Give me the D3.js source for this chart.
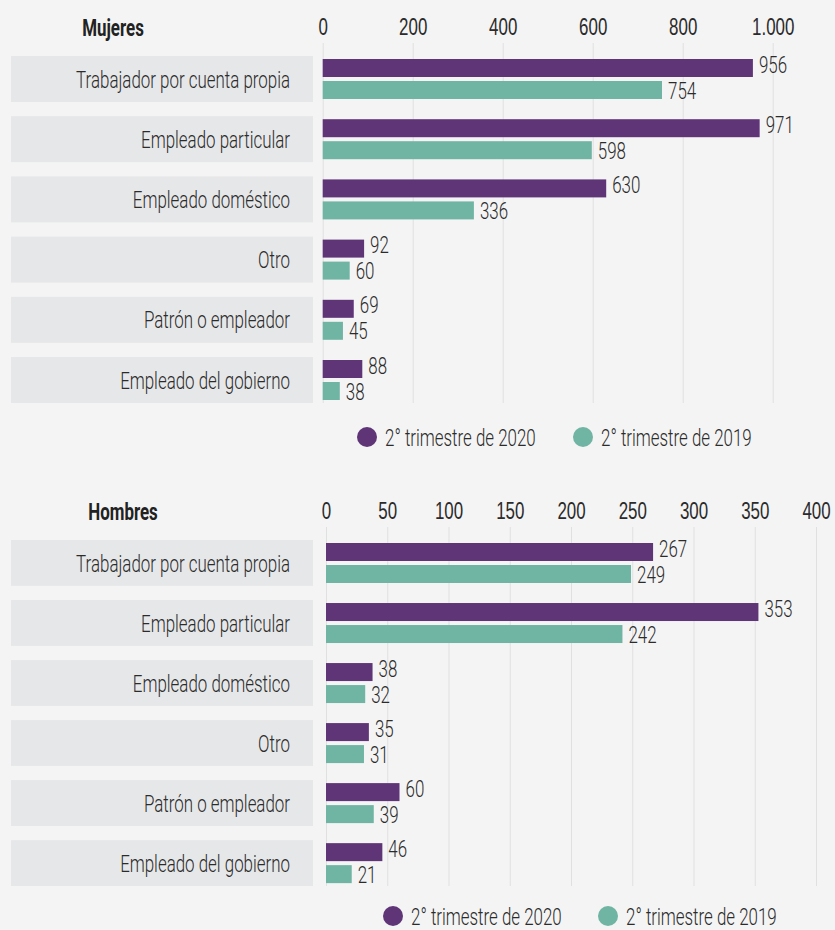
<!DOCTYPE html>
<html>
<head>
<meta charset="utf-8">
<script src="https://cdn.jsdelivr.net/npm/d3@7"></script>
<style>
  body { margin: 0; background: #f4f4f4; }
  svg { display: block; font-family: Roboto, "DejaVu Sans Condensed", sans-serif; font-weight: 300; }
</style>
</head>
<body>
<svg id="chart" width="835" height="930"></svg>
<script>
// categories and series
const categories = ["Trabajador por cuenta propia", "Empleado particular", "Empleado doméstico", "Otro", "Patrón o empleador", "Empleado del gobierno"];
const seriesNames = ["2° trimestre de 2020", "2° trimestre de 2019"];
const seriesColors = ["#5f3577", "#70b5a3"];

// Mujeres
const mujeres2020 = [956, 971, 630, 92, 69, 88];
const mujeres2019 = [754, 598, 336, 60, 45, 38];
const mujeresTicks = [0, 200, 400, 600, 800, 1000];

// Hombres
const hombres2020 = [267, 353, 38, 35, 60, 46];
const hombres2019 = [249, 242, 32, 31, 39, 21];
const hombresTicks = [0, 50, 100, 150, 200, 250, 300, 350, 400];

const locale = d3.formatLocale({ decimal: ",", thousands: ".", grouping: [3], currency: ["$", ""] });
const fmt = locale.format(",d");

const svg = d3.select("#chart");

// the original font is a condensed one: measure the longest label and squeeze
// everything by the same factor so it matches the original width (~214px)
const FS = 24;
const probe = svg.append("text").attr("font-size", FS).text(categories[0]);
const SQ = Math.min(1, 214 / probe.node().getComputedTextLength());
probe.remove();

// text placed through a transform so it can be squeezed
function label(parent, x, y, txt, anchor) {
  return parent.append("text")
    .attr("transform", `translate(${x},${y}) scale(${SQ},1)`)
    .attr("dy", "0.36em")
    .attr("text-anchor", anchor || "start")
    .attr("font-size", FS)
    .attr("fill", "#2b2b2b")
    .text(txt);
}

function drawPanel(cfg) {
  const g = svg.append("g");

  const x = d3.scaleLinear()
    .domain([0, cfg.ticks[cfg.ticks.length - 1]])
    .range([cfg.x0, cfg.x1]);

  const y = d3.scaleBand()
    .domain(categories)
    .range([cfg.top, cfg.bottom])
    .paddingInner(0.236)
    .paddingOuter(0);

  const ySub = d3.scaleBand()
    .domain([0, 1])
    .range([3, 43])
    .paddingInner(0.182);

  // title
  label(g, cfg.titleX, cfg.top - 29, cfg.title, "middle")
    .attr("font-weight", "bold")
    .attr("fill", "#222");

  // grid + tick labels
  const axis = g.append("g")
    .attr("transform", `translate(0,${cfg.top - 13})`)
    .call(d3.axisTop(x).tickValues(cfg.ticks).tickFormat(fmt)
      .tickSize(-(cfg.bottom - cfg.top + 13)).tickPadding(8));
  axis.select(".domain").remove();
  axis.selectAll(".tick line").attr("stroke", "#e0e0e0").attr("stroke-width", 1);
  axis.selectAll(".tick text")
    .attr("transform", `scale(${SQ},1)`)
    .attr("font-size", FS)
    .attr("fill", "#2b2b2b")
    .attr("font-family", null);

  // category boxes
  const rows = g.selectAll(".row")
    .data(categories)
    .join("g")
    .attr("class", "row")
    .attr("transform", d => `translate(0,${y(d)})`);

  rows.append("rect")
    .attr("x", 11)
    .attr("width", 302)
    .attr("height", y.bandwidth())
    .attr("fill", "#e6e7e8");

  rows.each(function(d) {
    label(d3.select(this), 290, y.bandwidth() / 2, d, "end");
  });

  // bars
  const series = [cfg.s2020, cfg.s2019];
  series.forEach((vals, si) => {
    rows.append("rect")
      .attr("x", x(0))
      .attr("y", ySub(si))
      .attr("width", (d, i) => x(vals[i]) - x(0))
      .attr("height", ySub.bandwidth())
      .attr("fill", seriesColors[si]);

    rows.each(function(d, i) {
      label(d3.select(this), x(vals[i]) + 6,
        ySub(si) + ySub.bandwidth() / 2 + (si === 0 ? -4 : 0), fmt(vals[i]));
    });
  });

  // legend
  const leg = g.append("g")
    .attr("transform", `translate(0,${cfg.legendY})`);
  seriesNames.forEach((name, i) => {
    leg.append("circle")
      .attr("cx", cfg.legendX[i])
      .attr("cy", 0)
      .attr("r", 10)
      .attr("fill", seriesColors[i]);
    label(leg, cfg.legendX[i] + 18, 0, name);
  });
}

drawPanel({
  title: "Mujeres", titleX: 113,
  ticks: mujeresTicks, x0: 322.7, x1: 772.7,
  top: 56, bottom: 403,
  s2020: mujeres2020, s2019: mujeres2019,
  legendY: 437, legendX: [367, 583]
});

drawPanel({
  title: "Hombres", titleX: 123,
  ticks: hombresTicks, x0: 326, x1: 816,
  top: 540, bottom: 886,
  s2020: hombres2020, s2019: hombres2019,
  legendY: 916, legendX: [393, 608]
});
</script>
</body>
</html>
